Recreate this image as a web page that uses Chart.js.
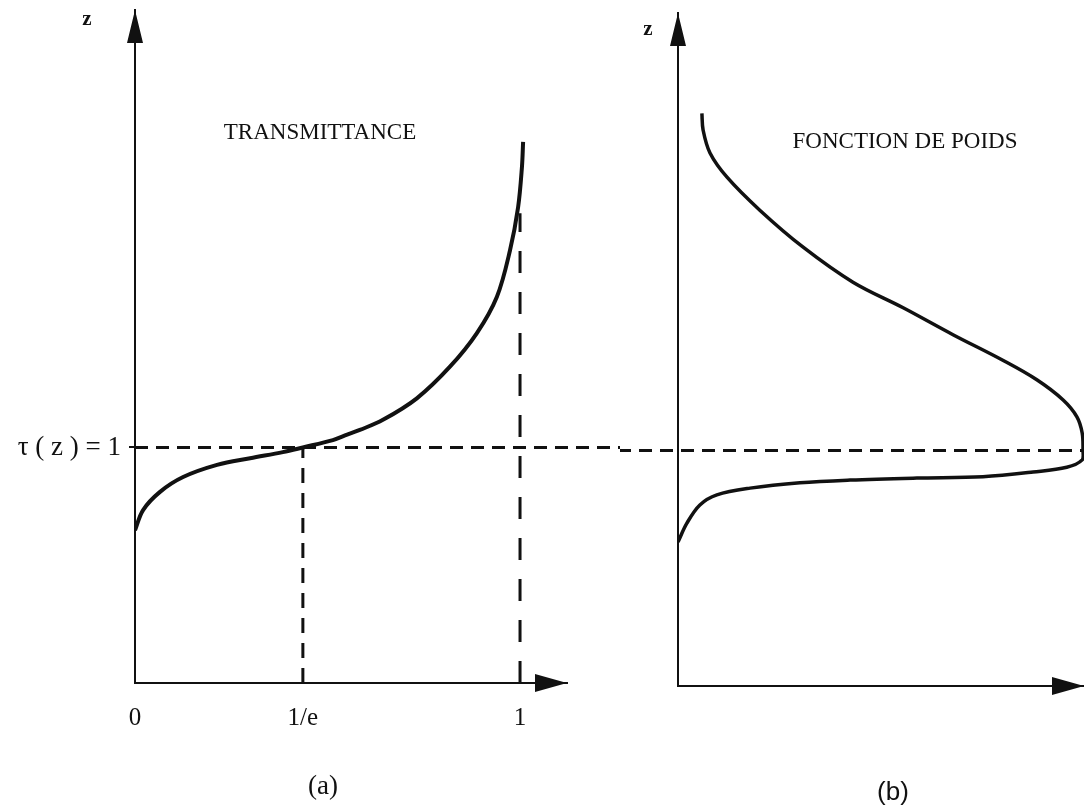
<!DOCTYPE html>
<html>
<head>
<meta charset="utf-8">
<title>Transmittance et fonction de poids</title>
<script src="https://cdn.jsdelivr.net/npm/chart.js@4"></script>
<style>
  html, body { margin: 0; padding: 0; background: #fff; }
  #wrap { position: relative; width: 1084px; height: 805px; overflow: hidden; }
  canvas { position: absolute; top: 0; }
  #left { left: 0; }
  #right { left: 620px; }
</style>
</head>
<body>
<div id="wrap">
  <canvas id="left" width="620" height="805"></canvas>
  <canvas id="right" width="464" height="805"></canvas>
</div>
<script>
'use strict'

// altitude z (echelle arbitraire 0..100) ou tau(z) = 1
const zTau1 = 35

// (a) transmittance en fonction de z
const transTau = [0, 0.021, 0.065, 0.125, 0.213, 0.299, 0.384, 0.436, 0.514, 0.551,
  0.584, 0.644, 0.732, 0.818, 0.888, 0.94, 0.974, 0.995, 1.005, 1.008]
const transZ = [22.7, 25.7, 28.4, 30.6, 32.4, 33.4, 34.3, 35.0, 36.1, 36.9,
  37.6, 39.1, 42.3, 47.0, 52.0, 57.4, 64.3, 70.7, 76.7, 80.4]
const tauTicks = [0, 0.436, 1]
const tauTickLabels = ['0', '1/e', '1']
const tauOneTop = 69.8

// (b) fonction de poids en fonction de z
const weightW = [0, 0.022, 0.054, 0.096, 0.178, 0.301, 0.425, 0.59, 0.753, 0.877,
  0.96, 0.998, 1.0, 0.998, 0.985, 0.951, 0.886, 0.802, 0.679, 0.556,
  0.432, 0.309, 0.202, 0.121, 0.079, 0.062, 0.059]
const weightZ = [21.4, 24.2, 26.9, 28.4, 29.4, 30.2, 30.6, 30.9, 31.1, 31.8,
  32.5, 33.6, 35.0, 37.6, 40.0, 42.5, 45.5, 48.4, 52.2, 56.2,
  60.0, 65.2, 70.7, 75.6, 79.2, 82.6, 85.1]

const ink = '#111'
const serif = '"Liberation Serif", "DejaVu Serif", serif'

const toPoints = (xs, ys) => xs.map((x, i) => ({ x: x, y: ys[i] }))

// pointes de fleche au bout des axes
const arrows = {
  id: 'arrows',
  afterDraw(chart) {
    const { ctx, chartArea: a } = chart
    ctx.save()
    ctx.fillStyle = ink
    ctx.beginPath()
    ctx.moveTo(a.left, a.top)
    ctx.lineTo(a.left - 8, a.top + 33)
    ctx.lineTo(a.left + 8, a.top + 33)
    ctx.closePath()
    ctx.moveTo(a.right, a.bottom)
    ctx.lineTo(a.right - 32, a.bottom - 9)
    ctx.lineTo(a.right - 32, a.bottom + 9)
    ctx.closePath()
    ctx.fill()
    ctx.restore()
  },
}

function notes(items) {
  return {
    id: 'notes',
    afterDraw(chart) {
      const ctx = chart.ctx
      ctx.save()
      ctx.fillStyle = ink
      ctx.textAlign = 'center'
      ctx.textBaseline = 'middle'
      items.forEach((n) => {
        ctx.font = n.font
        ctx.fillText(n.text, n.x, n.y)
      })
      ctx.restore()
    },
  }
}

const axisBorder = { display: true, color: ink, width: 2 }

new Chart(document.getElementById('left'), {
  type: 'scatter',
  data: {
    datasets: [
      {
        data: toPoints(transTau, transZ),
        showLine: true,
        borderColor: ink,
        borderWidth: 4,
        tension: 0.35,
        pointRadius: 0,
      },
      {
        data: toPoints([0, 1.3], [zTau1, zTau1]),
        showLine: true,
        borderColor: ink,
        borderWidth: 3,
        borderDash: [13, 8],
        pointRadius: 0,
        clip: false,
      },
      {
        data: toPoints([tauTicks[1], tauTicks[1]], [0, zTau1]),
        showLine: true,
        borderColor: ink,
        borderWidth: 3,
        borderDash: [15, 10],
        pointRadius: 0,
      },
      {
        data: toPoints([tauTicks[2], tauTicks[2]], [0, tauOneTop]),
        showLine: true,
        borderColor: ink,
        borderWidth: 3,
        borderDash: [22, 19],
        pointRadius: 0,
      },
    ],
  },
  options: {
    responsive: false,
    animation: false,
    layout: { padding: { top: 10, right: 53, left: 0, bottom: 0 } },
    scales: {
      x: {
        type: 'linear',
        min: 0,
        max: 1.122,
        afterFit: (s) => { s.height = 122 },
        afterBuildTicks: (s) => { s.ticks = tauTicks.map((v) => ({ value: v })) },
        ticks: {
          callback: (v, i) => tauTickLabels[i],
          autoSkip: false,
          maxRotation: 0,
          padding: 20,
          color: ink,
          font: { family: serif, size: 25 },
        },
        grid: { display: false, drawTicks: false },
        border: axisBorder,
      },
      y: {
        type: 'linear',
        min: 0,
        max: 100,
        afterFit: (s) => {
          s.width = 135
          s.paddingTop = 0
          s.paddingBottom = 0
        },
        afterBuildTicks: (s) => { s.ticks = [{ value: zTau1 }] },
        ticks: {
          callback: () => 'τ ( z ) = 1',
          padding: 8,
          color: ink,
          font: { family: serif, size: 27 },
        },
        grid: { display: true, drawOnChartArea: false, drawTicks: true, tickLength: 6, color: ink, lineWidth: 2 },
        border: axisBorder,
      },
    },
    plugins: {
      legend: { display: false },
      tooltip: { enabled: false },
    },
  },
  plugins: [arrows, notes([
    { text: 'z', x: 87, y: 20, font: 'bold 21px ' + serif },
    { text: 'TRANSMITTANCE', x: 320, y: 133, font: '23px ' + serif },
    { text: '(a)', x: 323, y: 787, font: '27px ' + serif },
  ])],
})

new Chart(document.getElementById('right'), {
  type: 'scatter',
  data: {
    datasets: [
      {
        data: toPoints(weightW, weightZ),
        showLine: true,
        borderColor: ink,
        borderWidth: 3.5,
        tension: 0.35,
        pointRadius: 0,
      },
      {
        data: toPoints([-0.2, 1.0], [zTau1, zTau1]),
        showLine: true,
        borderColor: ink,
        borderWidth: 3,
        borderDash: [13, 8],
        pointRadius: 0,
        clip: false,
      },
    ],
  },
  options: {
    responsive: false,
    animation: false,
    layout: { padding: { top: 13, right: 0, left: 0, bottom: 0 } },
    scales: {
      x: {
        type: 'linear',
        min: 0,
        max: 1.0025,
        afterFit: (s) => { s.height = 119 },
        ticks: { display: false },
        grid: { display: false, drawTicks: false },
        border: axisBorder,
      },
      y: {
        type: 'linear',
        min: 0,
        max: 100,
        afterFit: (s) => { s.width = 58 },
        ticks: { display: false },
        grid: { display: false, drawTicks: false },
        border: axisBorder,
      },
    },
    plugins: {
      legend: { display: false },
      tooltip: { enabled: false },
    },
  },
  plugins: [arrows, notes([
    { text: 'z', x: 28, y: 30, font: 'bold 21px ' + serif },
    { text: 'FONCTION DE POIDS', x: 285, y: 142, font: '23px ' + serif },
    { text: '(b)', x: 273, y: 793, font: '26px "Liberation Sans", sans-serif' },
  ])],
})
</script>
</body>
</html>
